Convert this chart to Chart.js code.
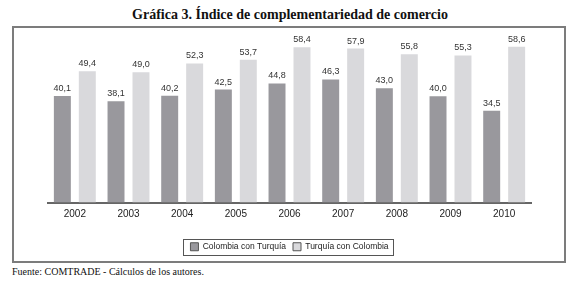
<!DOCTYPE html>
<html>
<head>
<meta charset="utf-8">
<script src="https://cdn.jsdelivr.net/npm/chart.js@4/dist/chart.umd.min.js"></script>
<style>
  html, body { margin: 0; padding: 0; background: #fff; }
  body { width: 580px; height: 283px; position: relative; overflow: hidden; }
  #title { position: absolute; left: 0; width: 580px; top: 6px; text-align: center;
    font-family: "Liberation Serif", "DejaVu Serif", serif; font-weight: bold; font-size: 14px; line-height: 18px; color: #111; }
  #frame { position: absolute; left: 12px; top: 26px; width: 550px; height: 233px;
    border: 2px solid #7c7c7c; }
  #frame canvas { display: block; }
  #foot { position: absolute; left: 12px; top: 265px; font-family: "Liberation Serif", "DejaVu Serif", serif;
    font-size: 10px; line-height: 14px; color: #111; }
</style>
</head>
<body>
<div id="title">Gráfica 3. Índice de complementariedad de comercio</div>
<div id="frame"><canvas id="c" width="550" height="233"></canvas></div>
<div id="foot">Fuente: COMTRADE - Cálculos de los autores.</div>
<script>
const years = ["2002","2003","2004","2005","2006","2007","2008","2009","2010"];
const colombiaConTurquia = [40.1, 38.1, 40.2, 42.5, 44.8, 46.3, 43.0, 40.0, 34.5];
const turquiaConColombia = [49.4, 49.0, 52.3, 53.7, 58.4, 57.9, 55.8, 55.3, 58.6];
const seriesNames = ["Colombia con Turquía", "Turquía con Colombia"];

const valueLabels = {
  id: 'valueLabels',
  afterDatasetsDraw(chart) {
    const ctx = chart.ctx;
    ctx.save();
    ctx.font = '9px "Liberation Sans", Arial, sans-serif';
    ctx.fillStyle = '#333';
    ctx.textAlign = 'center';
    ctx.textBaseline = 'bottom';
    chart.data.datasets.forEach((ds, i) => {
      const meta = chart.getDatasetMeta(i);
      meta.data.forEach((bar, j) => {
        ctx.fillText(ds.data[j].toFixed(1).replace('.', ','), bar.x, bar.y - 3);
      });
    });
    ctx.restore();
  }
};

const legendBox = {
  id: 'legendBox',
  afterDraw(chart) {
    const boxes = chart.legend && chart.legend.legendHitBoxes;
    if (!boxes || !boxes.length) return;
    let x0 = Infinity, y0 = Infinity, x1 = -Infinity, y1 = -Infinity;
    boxes.forEach(b => { x0 = Math.min(x0, b.left); y0 = Math.min(y0, b.top);
      x1 = Math.max(x1, b.left + b.width); y1 = Math.max(y1, b.top + b.height); });
    const ctx = chart.ctx;
    ctx.save();
    ctx.strokeStyle = '#555';
    ctx.lineWidth = 1;
    ctx.strokeRect(Math.round(x0 - 7) + 0.5, Math.round(y0 - 4) + 0.5, Math.round(x1 - x0 + 12), Math.round(y1 - y0 + 7));
    ctx.restore();
  }
};

new Chart(document.getElementById('c'), {
  type: 'bar',
  data: {
    labels: years,
    datasets: [
      { label: seriesNames[0], data: colombiaConTurquia, backgroundColor: '#99989d' },
      { label: seriesNames[1], data: turquiaConColombia, backgroundColor: '#d9d9dc' }
    ]
  },
  options: {
    responsive: false,
    animation: false,
    devicePixelRatio: 1,
    datasets: { bar: { categoryPercentage: 0.93, barPercentage: 0.68 } },
    layout: { padding: { left: 34, right: 33, top: 15, bottom: 0 } },
    scales: {
      x: {
        grid: { display: false, drawTicks: false },
        border: { color: '#666', width: 2 },
        ticks: { color: '#222', font: { family: '"Liberation Sans", Arial, sans-serif', size: 10 }, padding: 6 },
        afterFit(scale) { scale.height = 33; }
      },
      y: { display: false, min: 0, max: 60 }
    },
    plugins: {
      tooltip: { enabled: false },
      legend: {
        position: 'bottom',
        labels: {
          boxWidth: 8, boxHeight: 8, padding: 7,
          color: '#222',
          font: { family: '"Liberation Sans", Arial, sans-serif', size: 8.5 },
          generateLabels(chart) {
            return chart.data.datasets.map((ds, i) => ({
              text: ds.label, fillStyle: ds.backgroundColor, strokeStyle: '#555',
              lineWidth: 1, datasetIndex: i, hidden: false, fontColor: '#222'
            }));
          }
        }
      }
    }
  },
  plugins: [valueLabels, legendBox]
});
</script>
</body>
</html>
